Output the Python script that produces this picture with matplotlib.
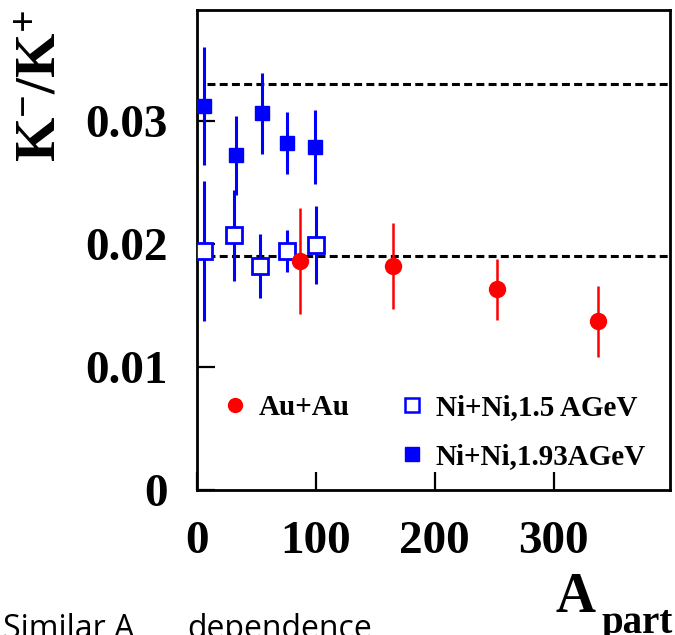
import matplotlib
matplotlib.use("Agg")
from matplotlib import pyplot as plt
from matplotlib.lines import Line2D

# DATOS

au_x = [87, 165, 252, 337]
au_y = [0.0186, 0.0182, 0.0163, 0.0137]
au_err = [0.0043, 0.0035, 0.0025, 0.0029]

ni15_x = [6, 31, 53, 76, 100]
ni15_y = [0.0194, 0.0207, 0.0182, 0.0194, 0.0199]
ni15_err = [0.0057, 0.0037, 0.0026, 0.0017, 0.0032]

ni193_x = [6, 33, 55, 76, 99]
ni193_y = [0.0312, 0.0272, 0.0306, 0.0282, 0.0279]
ni193_err = [0.0048, 0.0032, 0.0033, 0.0025, 0.0030]

niveles = [0.033, 0.019]
x_ticks = [0, 100, 200, 300]
y_ticks = [0, 0.01, 0.02, 0.03]
y_tick_labels = ["0", "0.01", "0.02", "0.03"]

plt.rcParams["font.family"] = "Liberation Serif"
plt.rcParams["font.weight"] = "bold"
plt.rcParams["mathtext.fontset"] = "custom"
plt.rcParams["mathtext.rm"] = "Liberation Serif:bold"
plt.rcParams["mathtext.bf"] = "Liberation Serif:bold"

fig = plt.figure(figsize=(6.75, 6.35), dpi=100)
ax = fig.add_axes([0.2919, 0.2283, 0.7007, 0.7560])

# GRAFICO

ax.hlines(niveles, 8, 398, colors="black", linestyles=(0, (2.6, 1.4)), linewidth=2.2, zorder=1)

ax.errorbar(ni193_x, ni193_y, yerr=ni193_err, fmt="s", color="blue", ms=10.5,
            elinewidth=2.2, capsize=0, zorder=3)
ax.errorbar(ni15_x, ni15_y, yerr=ni15_err, fmt="s", color="blue", mfc="white",
            mec="blue", mew=2, ms=11, elinewidth=2.2, capsize=0, zorder=3)
ax.errorbar(au_x, au_y, yerr=au_err, fmt="o", color="red", ms=11.5,
            elinewidth=1.8, capsize=0, zorder=4)

ax.set_xlim(0, 398)
ax.set_ylim(0, 0.039)
ax.set_xticks(x_ticks)
ax.set_yticks(y_ticks)
ax.set_yticklabels(y_tick_labels)
ax.tick_params(direction="in", length=13, width=1.6, labelsize=34, top=False, right=False)
ax.tick_params(axis="x", pad=22)
ax.tick_params(axis="y", pad=21)
for s in ax.spines.values():
    s.set_linewidth(2)

# LEYENDA

h_au = Line2D([], [], marker="o", color="red", ls="none", ms=10)
h_vacio = Line2D([], [], ls="none")
h_ni15 = Line2D([], [], marker="s", color="blue", mfc="white", mew=1.8, ls="none", ms=10)
h_ni193 = Line2D([], [], marker="s", color="blue", ls="none", ms=10)
ax.legend([h_au, h_vacio, h_ni15, h_ni193],
          ["Au+Au", "", "Ni+Ni,1.5 AGeV", "Ni+Ni,1.93AGeV"],
          ncol=2, loc="center", bbox_to_anchor=(0.502, 0.121), bbox_transform=ax.transAxes,
          frameon=False, fontsize=21, handlelength=0.8, handletextpad=0.42,
          columnspacing=1.74, labelspacing=0.75, borderpad=0)

# ETIQUETAS

fig.text(42 / 675, 1 - 86 / 635, r"$\mathbf{K^{-}/K^{+}}$", rotation=90, fontsize=41,
         ha="center", va="center")
fig.text(556 / 675, 1 - 612 / 635, "A", fontsize=40, ha="left", va="baseline")
fig.text(601 / 675, 1 - 633 / 635, "part", fontsize=28, ha="left", va="baseline")

fig.text(3 / 675, 1 - 638 / 635, "Similar A", family="Open Sans", weight="normal",
         fontsize=23, ha="left", va="baseline")
fig.text(187 / 675, 1 - 638 / 635, "dependence", family="Open Sans", weight="normal",
         fontsize=23, ha="left", va="baseline")

fig.savefig("out.png", dpi=100)
